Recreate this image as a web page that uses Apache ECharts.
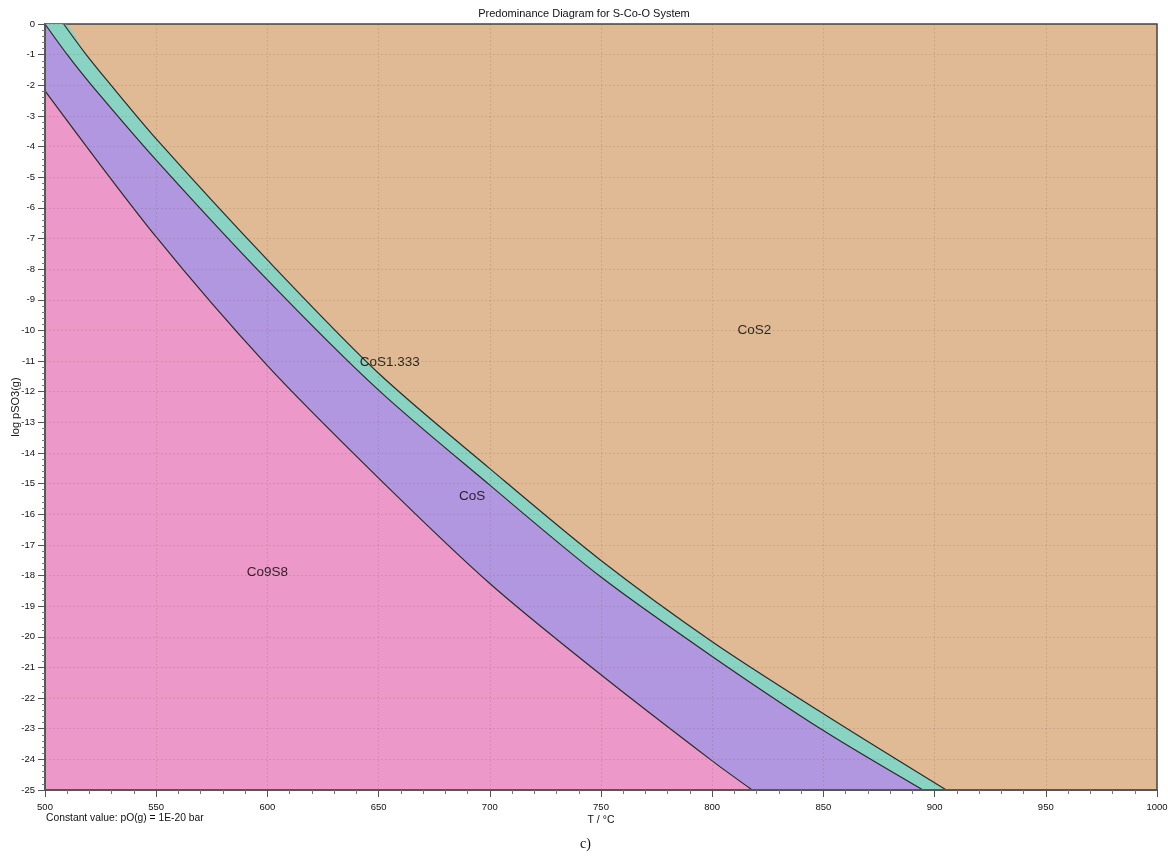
<!DOCTYPE html>
<html>
<head>
<meta charset="utf-8">
<script src="https://cdn.jsdelivr.net/npm/echarts@6/dist/echarts.min.js"></script>
<style>
html,body{margin:0;padding:0;background:#fff;}
#chart{width:1168px;height:862px;}
</style>
</head>
<body>
<div id="chart"></div>
<script>
// Axis ranges / ticks
const xRange = [500, 1000];
const yRange = [-25, 0];
const xInterval = 50;
const yInterval = 1;

// Phase boundaries [T (°C), log pSO3(g)]
const boundaryCo9S8_CoS = [[500,-2.18],[550,-6.95],[600,-11.15],[650,-14.82],[700,-18.26],[750,-21.24],[800,-24.05],[818,-25]];
const boundaryCoS_CoS1333 = [[500,0],[510,-1],[521,-2],[550,-4.44],[600,-8.35],[650,-11.95],[700,-15.05],[750,-18.05],[800,-20.64],[850,-23.06],[894.8,-25]];
const boundaryCoS1333_CoS2 = [[508.4,0],[518,-0.95],[528,-1.85],[550,-3.75],[600,-7.7],[650,-11.4],[700,-14.51],[750,-17.51],[800,-20.16],[850,-22.51],[905.3,-25]];

// Region labels
const regionNames = ['CoS2','CoS1.333','CoS','Co9S8'];
const regionLabelPos = [[819,-10],[655,-11.05],[692,-15.4],[600,-17.9]];

const colTan = '#dfba95', colTeal = '#88d3c1', colPurple = '#b197e0', colPink = '#ec98c8';
const lineCol = '#2b2b2b';

const chart = echarts.init(document.getElementById('chart'), null, {renderer:'canvas'});
const SM = 0.3;

function areaSeries(data, color, z){
  return {type:'line', data:data, smooth:SM, symbol:'none', silent:true, z:z,
    lineStyle:{width:0, opacity:0}, areaStyle:{color:color, opacity:1, origin:'start'}};
}
function lineSeries(data){
  return {type:'line', data:data, smooth:SM, symbol:'none', silent:true, z:3,
    lineStyle:{width:1.2, color:lineCol}};
}

const option = {
  animation:false,
  backgroundColor:'#ffffff',
  title:[
    {text:'Predominance Diagram for S-Co-O System', left:'center', top:3,
     textStyle:{fontSize:11, fontWeight:'normal', color:'#111', fontFamily:'Liberation Sans'}},
    {text:'c)', left:575, top:832,
     textStyle:{fontSize:14, fontWeight:'normal', color:'#111', fontFamily:'Liberation Serif'}}
  ],
  graphic:[
    {type:'text', left:46, top:813, style:{text:'Constant value: pO(g) = 1E-20 bar', fontSize:10.3, fill:'#111', fontFamily:'Liberation Sans'}}
  ],
  grid:{left:45, right:11, top:24, bottom:72, outerBoundsMode:'none', containLabel:false,
        show:true, backgroundColor:colTan, borderColor:'#444', borderWidth:1.5},
  xAxis:{
    type:'value', min:xRange[0], max:xRange[1], interval:xInterval, z:5,
    name:'T / °C', nameLocation:'middle', nameGap:25, nameMoveOverlap:false,
    nameTextStyle:{fontSize:10.5, color:'#111', fontFamily:'Liberation Sans'},
    axisLine:{show:true, onZero:false, lineStyle:{color:'#555', width:2}},
    axisTick:{show:true, length:7, lineStyle:{color:'#555', width:1}},
    minorTick:{show:true, splitNumber:5, length:4, lineStyle:{color:'#777'}},
    axisLabel:{fontSize:9.5, color:'#111', margin:12, fontFamily:'Liberation Sans', formatter:v=>String(v)},
    splitLine:{show:true, lineStyle:{color:'rgba(130,90,70,0.2)', type:[2,2], width:1}}
  },
  yAxis:{
    type:'value', min:yRange[0], max:yRange[1], interval:yInterval, z:5,
    name:'log pSO3(g)', nameLocation:'middle', nameGap:24, nameRotate:90, nameMoveOverlap:false,
    nameTextStyle:{fontSize:11, color:'#111', fontFamily:'Liberation Sans'},
    axisLine:{show:true, onZero:false, lineStyle:{color:'#555', width:2}},
    axisTick:{show:true, length:7, lineStyle:{color:'#555', width:1}},
    minorTick:{show:true, splitNumber:5, length:3, lineStyle:{color:'#777'}},
    axisLabel:{fontSize:9.5, color:'#111', margin:10, fontFamily:'Liberation Sans'},
    splitLine:{show:true, lineStyle:{color:'rgba(130,90,70,0.2)', type:[2,2], width:1}}
  },
  series:[
    areaSeries([[xRange[0], yRange[1]]].concat(boundaryCoS1333_CoS2), colTeal, 1),
    areaSeries(boundaryCoS_CoS1333, colPurple, 1.1),
    areaSeries(boundaryCo9S8_CoS, colPink, 1.2),
    lineSeries(boundaryCoS1333_CoS2),
    lineSeries(boundaryCoS_CoS1333),
    lineSeries(boundaryCo9S8_CoS),
    {type:'scatter', symbolSize:0, silent:true, z:10, itemStyle:{color:'rgba(0,0,0,0)'},
     data: regionNames.map((n,i)=>({name:n, value:regionLabelPos[i]})),
     label:{show:true, position:'inside', formatter:p=>p.name, fontSize:13.5, color:'#000', fontFamily:'Liberation Sans'}}
  ]
};
chart.setOption(option);
</script>
</body>
</html>
